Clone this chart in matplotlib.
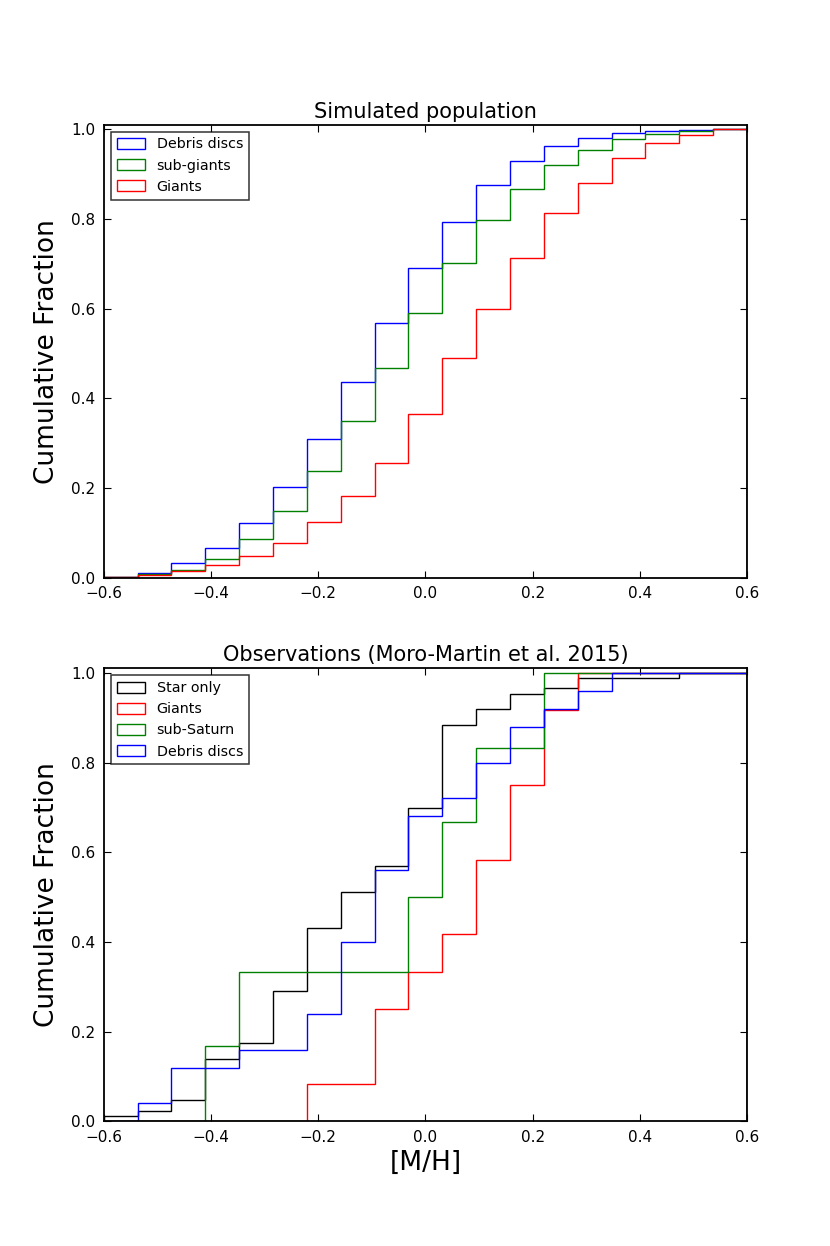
import numpy as np
import matplotlib
matplotlib.use('Agg')
import matplotlib.pyplot as plt

# bin edges in [M/H]
edges = np.linspace(-0.6, 0.6, 20)

# Simulated population: cumulative fractions per bin
sim_labels = ['Debris discs', 'sub-giants', 'Giants']
sim_colors = ['b', 'g', 'r']
sim_debris = [0.002, 0.011, 0.032, 0.067, 0.122, 0.203, 0.310, 0.437, 0.568, 0.690,
              0.792, 0.875, 0.929, 0.962, 0.981, 0.991, 0.996, 0.999, 1.0]
sim_subgiants = [0.0015, 0.009, 0.018, 0.042, 0.086, 0.148, 0.238, 0.349, 0.467, 0.589,
                 0.701, 0.797, 0.867, 0.921, 0.953, 0.977, 0.989, 0.996, 1.0]
sim_giants = [0.001, 0.007, 0.016, 0.029, 0.048, 0.077, 0.125, 0.182, 0.255, 0.364,
              0.489, 0.598, 0.712, 0.812, 0.879, 0.935, 0.968, 0.986, 1.0]

# Observations (Moro-Martin et al. 2015)
obs_labels = ['Star only', 'Giants', 'sub-Saturn', 'Debris discs']
obs_colors = ['k', 'r', 'g', 'b']
obs_star = [0.012, 0.023, 0.047, 0.140, 0.174, 0.291, 0.430, 0.512, 0.570, 0.698,
            0.884, 0.919, 0.953, 0.965, 0.988, 0.988, 0.988, 1.0, 1.0]
obs_giants = [0.0, 0.0, 0.0, 0.0, 0.0, 0.0, 0.083, 0.083, 0.25, 0.333,
              0.417, 0.583, 0.75, 0.917, 1.0, 1.0, 1.0, 1.0, 1.0]
obs_subsaturn = [0.0, 0.0, 0.0, 0.167, 0.333, 0.333, 0.333, 0.333, 0.333, 0.5,
                 0.667, 0.833, 0.833, 1.0, 1.0, 1.0, 1.0, 1.0, 1.0]
obs_debris = [0.0, 0.04, 0.12, 0.12, 0.16, 0.16, 0.24, 0.40, 0.56, 0.68,
              0.72, 0.80, 0.88, 0.92, 0.96, 1.0, 1.0, 1.0, 1.0]

xticks = [-0.6, -0.4, -0.2, 0.0, 0.2, 0.4, 0.6]
yticks = [0.0, 0.2, 0.4, 0.6, 0.8, 1.0]


def style_axes(ax):
    ax.set_xlim(-0.6, 0.6)
    ax.set_ylim(0.0, 1.01)
    ax.set_xticks(xticks)
    ax.set_xticklabels(['%.1f' % t if t >= 0 else '\u2212%.1f' % -t for t in xticks])
    ax.set_yticks(yticks)
    ax.set_yticklabels(['%.1f' % t for t in yticks])
    ax.tick_params(direction='in', top=True, right=True, length=5, width=0.8,
                   labelsize=11, pad=6)
    for sp in ax.spines.values():
        sp.set_linewidth(1.3)
        sp.set_zorder(3)
    ax.set_ylabel('Cumulative Fraction', fontsize=19, labelpad=8)


def step_hist(ax, series, labels, colors):
    centers = 0.5 * (edges[:-1] + edges[1:])
    for vals, lab, col in zip(series, labels, colors):
        ax.hist(centers, bins=edges, weights=vals, histtype='step',
                color=col, linewidth=1.0, label=lab)
    leg = ax.legend(loc='upper left', fontsize=10.3, fancybox=False,
                    handlelength=2.0, handleheight=0.8, borderaxespad=0.5,
                    labelspacing=0.5)
    leg.get_frame().set_edgecolor('k')
    leg.get_frame().set_linewidth(1.1)


fig, (ax1, ax2) = plt.subplots(2, 1, figsize=(8.3, 12.46), dpi=100)
fig.patch.set_facecolor('white')
fig.subplots_adjust(left=0.125, right=0.9, bottom=0.1, top=0.9, hspace=0.2)

step_hist(ax1, [sim_debris, sim_subgiants, sim_giants], sim_labels, sim_colors)
style_axes(ax1)
ax1.set_title('Simulated population', fontsize=15, pad=5)

step_hist(ax2, [obs_star, obs_giants, obs_subsaturn, obs_debris], obs_labels, obs_colors)
style_axes(ax2)
ax2.set_title('Observations (Moro-Martin et al. 2015)', fontsize=15, pad=5)
ax2.set_xlabel('[M/H]', fontsize=19)

fig.savefig('out.png', dpi=100, facecolor='white')
